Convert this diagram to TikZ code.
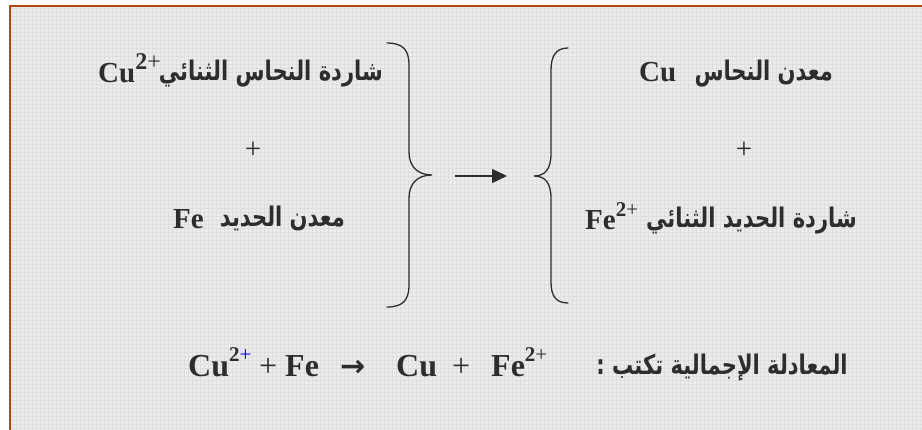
\documentclass[tikz,border=0pt]{standalone}
\usepackage{fontspec}
\setmainfont{Liberation Serif}
\newfontfamily\arabicfont[Script=Arabic]{DejaVu Sans}
\newfontfamily\symfont{DejaVu Sans}
\TeXXeTstate=1
\usetikzlibrary{arrows.meta}
\definecolor{bordercol}{RGB}{180,70,20}
\definecolor{bgcol}{RGB}{236,236,236}
\definecolor{gridcol}{RGB}{222,222,222}
\definecolor{txt}{RGB}{45,45,45}
\newcommand\artxt[1]{\scalebox{0.78}[1]{\arabicfont\bfseries\fontsize{27}{27}\selectfont\beginR #1\endR}}
\newcommand\upsc[2]{\raisebox{#1}{\fontsize{#2}{#2}\selectfont\bfseries 2\mdseries+}}
\tikzset{
  lbl/.style={inner sep=0pt, text=txt, font=\fontsize{29}{29}\selectfont\bfseries},
  biglbl/.style={inner sep=0pt, text=txt, font=\fontsize{32}{32}\selectfont\bfseries},
  arlbl/.style={inner sep=0pt, text=txt},
  plainlbl/.style={inner sep=0pt, text=txt, font=\fontsize{29}{29}\selectfont},
  bigplain/.style={inner sep=0pt, text=txt, font=\fontsize{32}{32}\selectfont},
  bracestyle/.style={draw=txt, line width=1.3pt, line cap=round},
  arrowstyle/.style={draw=txt, line width=1.3pt, -{Triangle[length=15pt,width=14pt]}}
}
\begin{document}
\begin{tikzpicture}[x=1pt,y=-1pt]
\useasboundingbox (0,0) rectangle (922,430);
\fill[white] (0,0) rectangle (922,430);
\fill[bgcol] (10,6) rectangle (922,430);
\draw[gridcol, line width=0.4pt, step=4pt] (10,6) grid (922,430);
\draw[bordercol, line width=2.2pt] (10,430) -- (10,6) -- (922,6);

% left column
\node[lbl, anchor=base west] (cu2l) at (98,83) {Cu\upsc{13pt}{24}};
\node[arlbl, anchor=base east] (cu2a) at (383,81) {\artxt{شاردة النحاس الثنائي}};
\node[plainlbl] (p1) at (253,150) {+};
\node[lbl, anchor=base west] (fel) at (173,229) {Fe};
\node[arlbl, anchor=base east] (fea) at (345,227) {\artxt{معدن الحديد}};

% right column
\node[lbl, anchor=base west] (cul) at (639,82) {Cu};
\node[arlbl, anchor=base east] (cua) at (833,81) {\artxt{معدن النحاس}};
\node[plainlbl] (p2) at (744,150) {+};
\node[lbl, anchor=base west] (fe2l) at (585,230) {Fe\upsc{13pt}{21}};
\node[arlbl, anchor=base east] (fe2a) at (857,228) {\artxt{شاردة الحديد الثنائي}};

% braces
\coordinate (lbtip) at (432,175);
\coordinate (rbtip) at (534,176);
\draw[bracestyle] (387,43) .. controls (403,43) and (409,50) .. (409,65) -- (409,152)
  .. controls (409,167) and (418,175) .. (lbtip)
  .. controls (418,175) and (409,183) .. (409,198) -- (409,285)
  .. controls (409,300) and (403,307) .. (387,307);
\draw[bracestyle] (568,48) .. controls (556,48) and (551,56) .. (551,70) -- (551,154)
  .. controls (551,169) and (545,176) .. (rbtip)
  .. controls (545,176) and (551,183) .. (551,198) -- (551,282)
  .. controls (551,296) and (556,303) .. (568,303);

% arrow
\coordinate (as) at (455,176);
\coordinate (ae) at (507,176);
\draw[arrowstyle] (as) -- (ae);

% overall equation
\node[biglbl, anchor=base west] (eq1) at (188,377)
  {Cu\raisebox{15pt}{\fontsize{21}{21}\selectfont\bfseries 2\mdseries\textcolor{blue}{+}}};
\node[bigplain, anchor=base west] (eq2) at (259,377) {+};
\node[biglbl, anchor=base west] (eq3) at (285,377) {Fe};
\node[inner sep=0pt, text=txt, anchor=base west] (eq4) at (340,377)
  {\raisebox{0pt}{\symfont\bfseries\fontsize{30}{30}\selectfont →}};
\node[biglbl, anchor=base west] (eq5) at (396,377) {Cu};
\node[bigplain, anchor=base west] (eq6) at (452,377) {+};
\node[biglbl, anchor=base west] (eq7) at (491,377) {Fe\raisebox{15pt}{\fontsize{21}{21}\selectfont\bfseries 2\mdseries+}};
\node[arlbl, anchor=base east] (eqlbl) at (848,375) {\artxt{المعادلة الإجمالية تكتب :}};
\end{tikzpicture}
\end{document}
